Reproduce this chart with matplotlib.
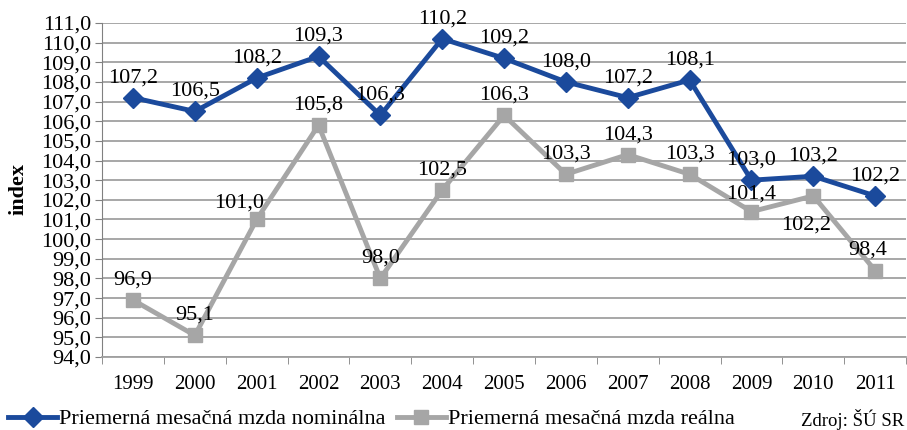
import numpy as np
import matplotlib.pyplot as plt
from matplotlib.lines import Line2D

plt.rcParams['font.family'] = ['Liberation Serif', 'DejaVu Serif']

years = ['1999', '2000', '2001', '2002', '2003', '2004', '2005',
         '2006', '2007', '2008', '2009', '2010', '2011']
nominal = [107.2, 106.5, 108.2, 109.3, 106.3, 110.2, 109.2,
           108.0, 107.2, 108.1, 103.0, 103.2, 102.2]
real = [96.9, 95.1, 101.0, 105.8, 98.0, 102.5, 106.3,
        103.3, 104.3, 103.3, 101.4, 102.2, 98.4]

blue = '#1B4A9C'
gray = '#A6A6A6'

fig = plt.figure(figsize=(9.07, 4.30), dpi=100)
ax = fig.add_axes([0.1125, 0.1698, 0.8865, 0.7767])

x = np.arange(len(years))
ax.plot(x, nominal, color=blue, lw=3.5, marker='D', ms=10, zorder=4)
ax.plot(x, real, color=gray, lw=3.5, marker='s', ms=10.5, zorder=3)

# label offsets in pixels (dx, dy)
nom_off = [(0, 20)] * len(years)
real_off = [(0, 20)] * len(years)
real_off[2] = (-18, 16)
real_off[10] = (0, 18)
real_off[11] = (-7, -29)
real_off[12] = (-7, 20)

def fmt(v):
    return f'{v:.1f}'.replace('.', ',')

for i, v in enumerate(nominal):
    ax.annotate(fmt(v), (x[i], v), xytext=nom_off[i], textcoords='offset pixels',
                ha='center', va='center', fontsize=16, zorder=6)
for i, v in enumerate(real):
    ax.annotate(fmt(v), (x[i], v), xytext=real_off[i], textcoords='offset pixels',
                ha='center', va='center', fontsize=16, zorder=6)

ax.set_xlim(-0.5, len(years) - 0.5)
ax.set_ylim(94, 111)
yt = np.arange(94, 112, 1)
ax.set_yticks(yt)
ax.set_yticklabels([fmt(v) for v in yt], fontsize=16)
ax.yaxis.grid(True, color='#A0A0A0', lw=1.3)
ax.set_axisbelow(True)

ax.set_xticks(x)
ax.set_xticklabels(years, fontsize=15)
ax.set_xticks(np.arange(-0.5, len(years), 1), minor=True)
ax.tick_params(axis='x', which='major', length=0, pad=13)
ax.tick_params(axis='x', which='minor', length=5, color='#808080')
ax.tick_params(axis='y', length=5, pad=3, color='#808080')

for s in ['top', 'right']:
    ax.spines[s].set_visible(False)
ax.spines['left'].set_color('#808080')
ax.spines['bottom'].set_color('#A0A0A0')
ax.spines['bottom'].set_linewidth(1.3)

fig.text(0.02, 0.56, 'index', rotation=90, fontsize=16, fontweight='bold',
         ha='center', va='center')

handles = [Line2D([], [], color=blue, lw=3.5, marker='D', ms=10),
           Line2D([], [], color=gray, lw=3.5, marker='s', ms=10.5)]
fig.legend(handles, ['Priemerná mesačná mzda nominálna', 'Priemerná mesačná mzda reálna'],
           loc='lower left', bbox_to_anchor=(-0.013, -0.045), ncol=2, frameon=False,
           fontsize=16, handlelength=2.2, handletextpad=0.1, columnspacing=0.5)
fig.text(0.997, 0.0, 'Zdroj: ŠÚ SR', ha='right', va='bottom', fontsize=13.5)

fig.savefig('out.png', dpi=100)
